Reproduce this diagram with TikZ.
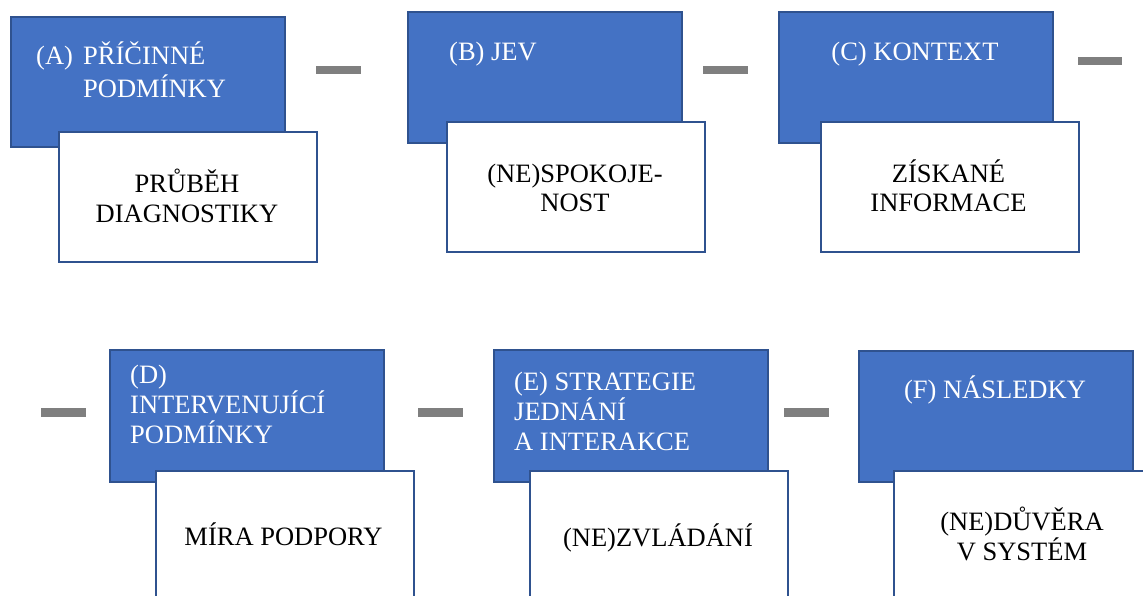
\documentclass[tikz,border=0pt]{standalone}
\usepackage{fontspec}
\setmainfont{Liberation Serif}
\definecolor{boxblue}{HTML}{4472C4}
\definecolor{edgeblue}{HTML}{2F528F}
\definecolor{bargray}{HTML}{7F7F7F}
\begin{document}
\begin{tikzpicture}[x=1pt,y=-1pt,
  bluebox/.style={draw=edgeblue,fill=boxblue,line width=2pt,anchor=north west,inner sep=0pt,minimum width=274pt},
  whitebox/.style={draw=edgeblue,fill=white,line width=2pt,anchor=north west,inner sep=0pt,minimum width=258pt},
  headtxt/.style={text=white,anchor=base west,inner sep=0pt,font=\fontsize{26.5}{30}\selectfont},
  bodytxt/.style={text=black,anchor=base,inner sep=0pt,font=\fontsize{26.5}{30}\selectfont},
  sepbar/.style={draw=bargray,line width=8.5pt}]
\useasboundingbox (0,0) rectangle (1143,595);
\clip (0,0) rectangle (1143,595);
\fill[white] (0,0) rectangle (1143,595);

% ---- row 1 ----
\node[bluebox,minimum height=130pt] (A) at (10,16) {};
\node[whitebox,minimum height=130pt] (Aw) at (58,131) {};
\node[headtxt] (At1) at (36,64) {(A)};
\node[headtxt] (At2) at (83,64) {PŘÍČINNÉ};
\node[headtxt] (At3) at (83,97) {PODMÍNKY};
\node[bodytxt] (Ab1) at (187,192) {PRŮBĚH};
\node[bodytxt] (Ab2) at (187,222) {DIAGNOSTIKY};

\node[bluebox,minimum height=131pt] (B) at (407,11) {};
\node[whitebox,minimum height=130pt] (Bw) at (446,121) {};
\node[headtxt] (Bt1) at (449,60) {(B) JEV};
\node[bodytxt] (Bb1) at (575,182) {(NE)SPOKOJE-};
\node[bodytxt] (Bb2) at (575,211) {NOST};

\node[bluebox,minimum height=131pt] (C) at (778,11) {};
\node[whitebox,minimum height=130pt] (Cw) at (820,121) {};
\node[headtxt,anchor=base] (Ct1) at (915,60) {(C) KONTEXT};
\node[bodytxt] (Cb1) at (948.5,182) {ZÍSKANÉ};
\node[bodytxt] (Cb2) at (948.5,211) {INFORMACE};

% ---- row 2 ----
\node[bluebox,minimum height=132pt] (D) at (109,349) {};
\node[whitebox,minimum height=140pt] (Dw) at (155,470) {};
\node[headtxt] (Dt1) at (130,383) {(D)};
\node[headtxt] (Dt2) at (130,413) {INTERVENUJÍCÍ};
\node[headtxt] (Dt3) at (130,443) {PODMÍNKY};
\node[bodytxt] (Db1) at (283.5,545) {MÍRA PODPORY};

\node[bluebox,minimum height=132pt] (E) at (493,349) {};
\node[whitebox,minimum height=140pt] (Ew) at (529,470) {};
\node[headtxt] (Et1) at (514,390) {(E) STRATEGIE};
\node[headtxt] (Et2) at (514,420) {JEDNÁNÍ};
\node[headtxt] (Et3) at (514,450) {A INTERAKCE};
\node[bodytxt] (Eb1) at (658,546) {(NE)ZVLÁDÁNÍ};

\node[bluebox,minimum height=131pt] (F) at (858,350) {};
\node[whitebox,minimum height=140pt] (Fw) at (893,470) {};
\node[headtxt,anchor=base] (Ft1) at (995,398) {(F) NÁSLEDKY};
\node[bodytxt] (Fb1) at (1022,530) {(NE)DŮVĚRA};
\node[bodytxt] (Fb2) at (1022,560) {V SYSTÉM};

% ---- separator bars ----
\coordinate (s1a) at (316,70);  \coordinate (s1b) at (361,70);
\coordinate (s2a) at (703,70);  \coordinate (s2b) at (748,70);
\coordinate (s3a) at (1078,61); \coordinate (s3b) at (1122,61);
\coordinate (s4a) at (41,412.5);  \coordinate (s4b) at (86,412.5);
\coordinate (s5a) at (418,412.5); \coordinate (s5b) at (463,412.5);
\coordinate (s6a) at (784,412.5); \coordinate (s6b) at (829,412.5);
\foreach \s in {1,...,6} {\draw[sepbar] (s\s a) -- (s\s b);}
\end{tikzpicture}
\end{document}
